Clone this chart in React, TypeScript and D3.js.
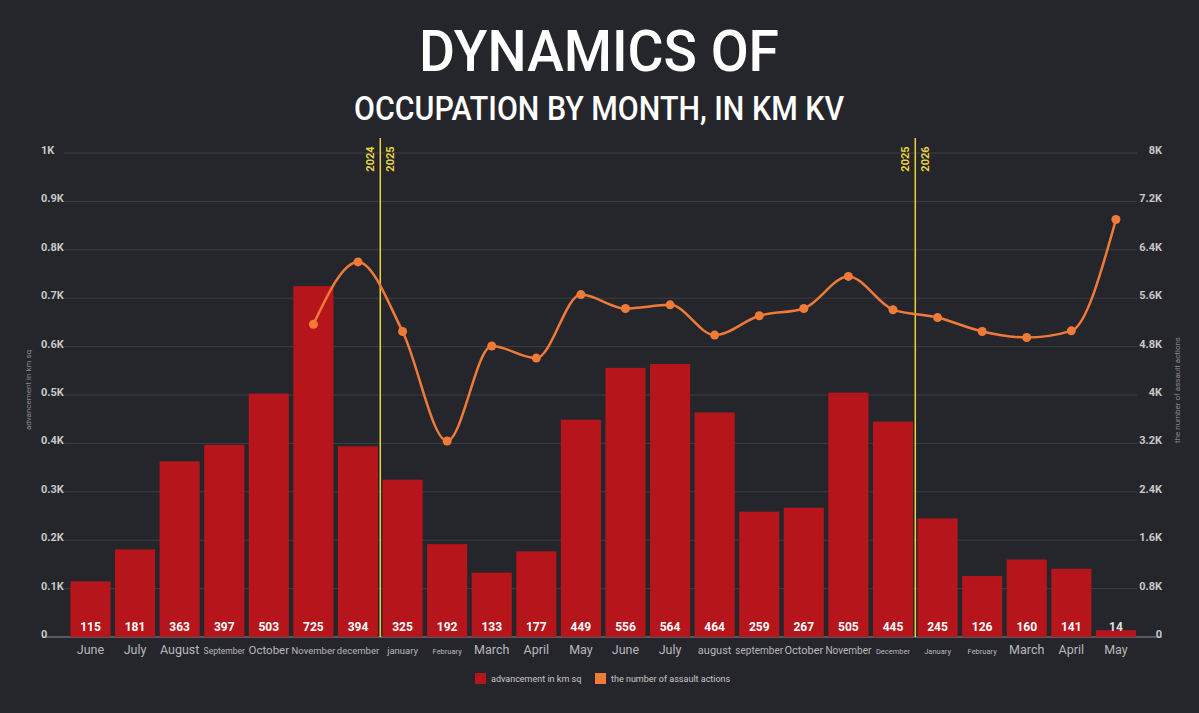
import React from "react";
import * as d3 from "d3";

const months = ["June","July","August","September","October","November","december","january","February","March","April","May","June","July","august","september","October","November","December","January","February","March","April","May"];
const advancement = [115,181,363,397,503,725,394,325,192,133,177,449,556,564,464,259,267,505,445,245,126,160,141,14];
const assaults: (number | null)[] = [null,null,null,null,null,5170,6200,5050,3240,4810,4610,5660,5430,5490,4990,5310,5430,5960,5410,5280,5050,4950,5060,6900];
const leftTicks = [0,100,200,300,400,500,600,700,800,900,1000];
const leftTickLabels = ["0","0.1K","0.2K","0.3K","0.4K","0.5K","0.6K","0.7K","0.8K","0.9K","1K"];
const rightTicks = [0,800,1600,2400,3200,4000,4800,5600,6400,7200,8000];
const rightTickLabels = ["0","0.8K","1.6K","2.4K","3.2K","4K","4.8K","5.6K","6.4K","7.2K","8K"];
const yearBreaks = [{ after: 6, left: "2024", right: "2025" }, { after: 18, left: "2025", right: "2026" }];
const labelSizes = [12.5,12.5,12.5,8.5,11.5,9.5,9.5,9.5,7.5,12.5,12.5,12.5,12.5,12.5,11,10,11,10,7.5,7.5,7.5,12.5,12.5,12.5];

const W = 1199, H = 713;
const BG = "#25262b";
const GRID = "#3d3e43";
const BAR = "#b5151b";
const LINE = "#f07a38";
const YEL = "#e8d43c";

export default function App() {
  const idx = months.map((_, i) => String(i));
  const x = d3.scaleBand<string>().domain(idx).range([68.2, 1138.2]).paddingInner(0.1).paddingOuter(0.05);
  const yL = d3.scaleLinear().domain([0, 1000]).range([637, 153]);
  const yR = d3.scaleLinear().domain([0, 8000]).range([637, 153]);
  const cx = (i: number) => (x(String(i)) as number) + x.bandwidth() / 2;

  const pts = assaults.map((v, i) => (v == null ? null : [cx(i), yR(v)] as [number, number])).filter(Boolean) as [number, number][];
  const linePath = d3.line().curve(d3.curveMonotoneX)(pts) || "";

  const font = "Roboto, 'Liberation Sans', Arial, sans-serif";

  return (
    <svg width={W} height={H} style={{ position: "absolute", left: 0, top: 0, display: "block" }} fontFamily={font}>
      <rect x={0} y={0} width={W} height={H} fill={BG} />
      {/* title */}
      <text x={599} y={71} textAnchor="middle" fill="#ffffff" fontSize={57} fontWeight={500} textLength={360} lengthAdjust="spacingAndGlyphs">DYNAMICS OF</text>
      <text x={599} y={120} textAnchor="middle" fill="#ffffff" fontSize={33} fontWeight={500} textLength={490} lengthAdjust="spacingAndGlyphs">OCCUPATION BY MONTH, IN KM KV</text>

      {/* grid */}
      {leftTicks.map((t, i) => (
        <line key={"g" + i} x1={i === 0 ? 42 : 64} x2={i === 0 ? 1162 : 1137} y1={yL(t)} y2={yL(t)} stroke={i === 0 ? "#6a6b70" : GRID} strokeWidth={i === 0 ? 1.5 : 1} />
      ))}
      {leftTicks.map((t, i) => (
        <text key={"l" + i} x={41} y={yL(t) + 1} fill="#c8c8c8" fontSize={11} fontWeight="bold">{leftTickLabels[i]}</text>
      ))}
      {rightTicks.map((t, i) => (
        <text key={"r" + i} x={1162} y={yR(t) + 1} textAnchor="end" fill="#c8c8c8" fontSize={11} fontWeight="bold">{rightTickLabels[i]}</text>
      ))}
      <text transform="translate(31,390) rotate(-90)" textAnchor="middle" fill="#8a8a8e" fontSize={8}>advancement in km sq</text>
      <text transform="translate(1180,390) rotate(-90)" textAnchor="middle" fill="#8a8a8e" fontSize={8}>the number of assault actions</text>

      {/* bars */}
      {advancement.map((v, i) => (
        <rect key={"b" + i} x={x(String(i))} y={yL(v)} width={x.bandwidth()} height={yL(0) - yL(v)} fill={BAR} />
      ))}
      {advancement.map((v, i) => (
        <text key={"v" + i} x={cx(i)} y={631} textAnchor="middle" fill={v < 40 ? "#e0e0e0" : "#ffffff"} fontSize={12} fontWeight="bold">{v}</text>
      ))}

      {/* year separators */}
      {yearBreaks.map((b, k) => {
        const xm = (cx(b.after) + cx(b.after + 1)) / 2;
        return (
          <g key={"y" + k}>
            <line x1={xm} x2={xm} y1={138} y2={637} stroke={YEL} strokeWidth={1.5} />
            <text transform={`translate(${xm - 6},159) rotate(-90)`} textAnchor="middle" fill={YEL} fontSize={11} fontWeight="bold">{b.left}</text>
            <text transform={`translate(${xm + 14},159) rotate(-90)`} textAnchor="middle" fill={YEL} fontSize={11} fontWeight="bold">{b.right}</text>
          </g>
        );
      })}

      {/* line */}
      <path d={linePath} fill="none" stroke={LINE} strokeWidth={2.5} />
      {pts.map((p, i) => (
        <circle key={"p" + i} cx={p[0]} cy={p[1]} r={4.5} fill={LINE} />
      ))}

      {/* x labels */}
      {months.map((m, i) => (
        <text key={"x" + i} x={cx(i)} y={654} textAnchor="middle" fill="#b8b8bc" fontSize={labelSizes[i]}>{m}</text>
      ))}

      {/* legend */}
      <rect x={475} y={673} width={11} height={11} fill={BAR} />
      <text x={491} y={682} fill="#c8c8c8" fontSize={9}>advancement in km sq</text>
      <rect x={595} y={673} width={11} height={11} fill={LINE} />
      <text x={611} y={682} fill="#c8c8c8" fontSize={9}>the number of assault actions</text>
    </svg>
  );
}
